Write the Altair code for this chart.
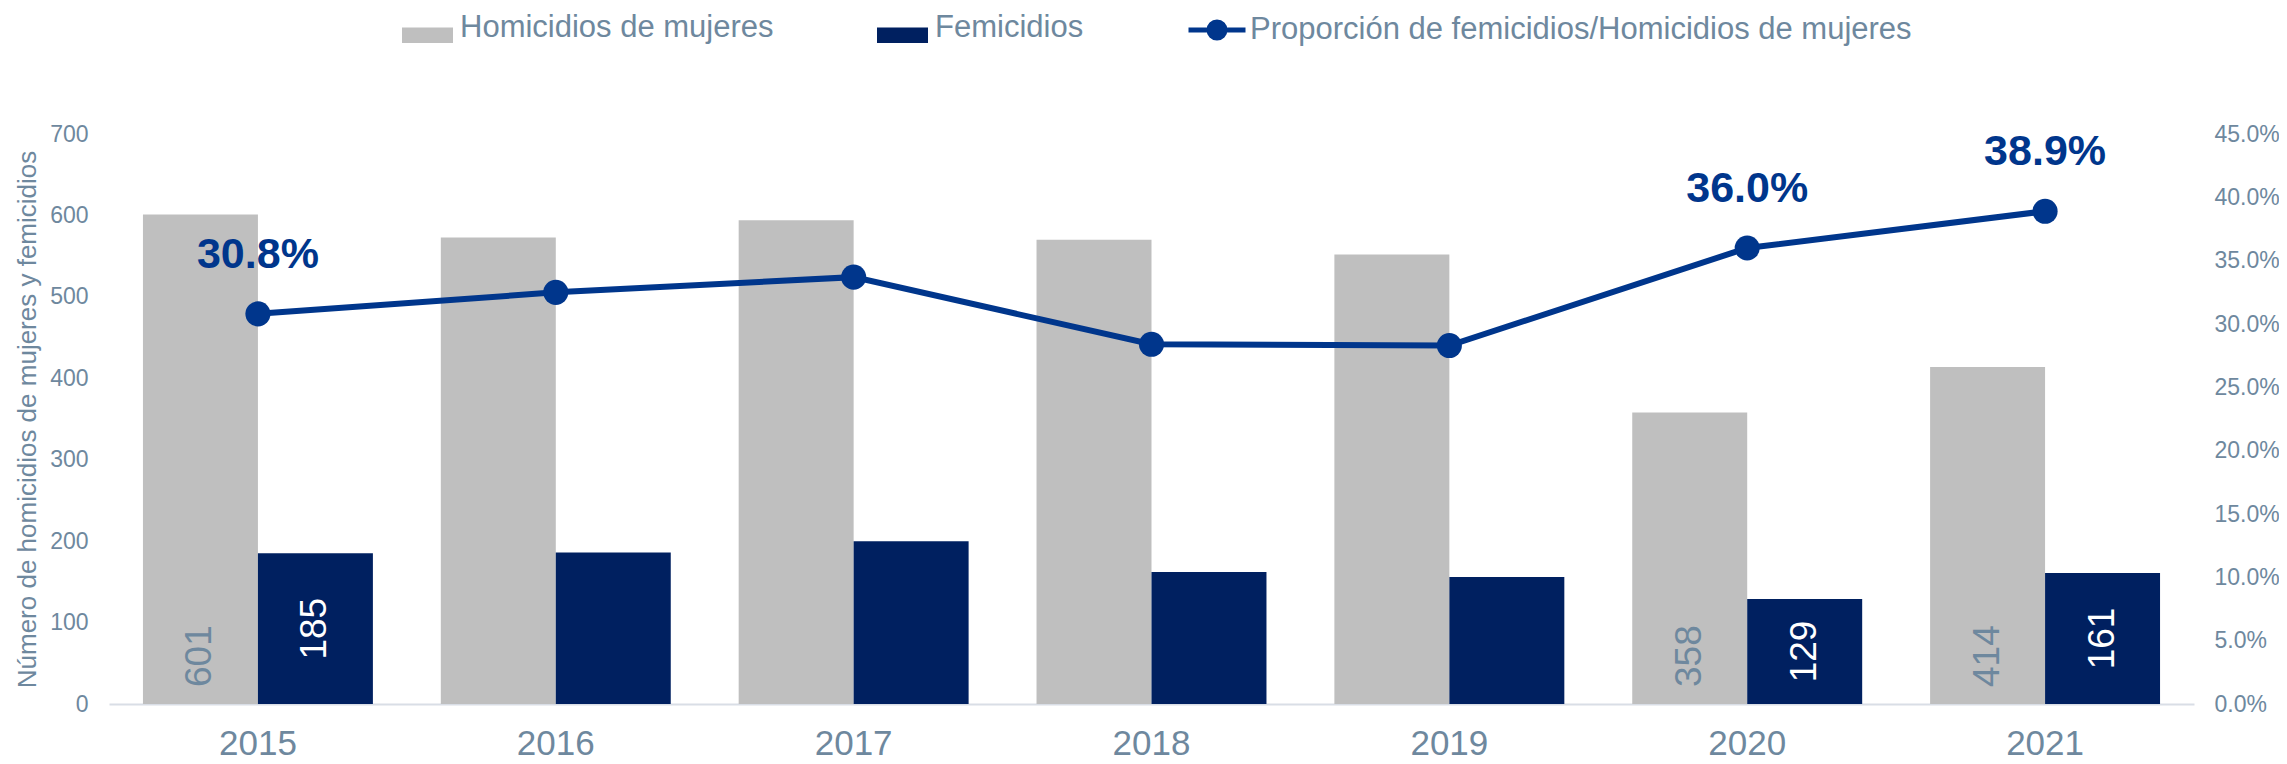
import altair as alt
import pandas as pd

# ---- data ----
years = ["2015", "2016", "2017", "2018", "2019", "2020", "2021"]
homicidios = [601, 573, 594, 570, 552, 358, 414]
femicidios = [185, 186, 200, 162, 156, 129, 161]
proporcion = [0.308, 0.325, 0.337, 0.284, 0.283, 0.360, 0.389]
show_label = [True, False, False, False, False, True, True]

S_H = "Homicidios de mujeres"
S_F = "Femicidios"
S_P = "Proporción de femicidios/Homicidios de mujeres"
Y_TITLE = "Número de homicidios de mujeres y femicidios"

GREY = "#BFBFBF"
NAVY = "#002060"
LINE = "#00368C"
TXT = "#6E889E"
FONT = "Liberation Sans"

rows = []
for i, yr in enumerate(years):
    rows.append({"year": yr, "series": S_H, "value": homicidios[i], "show": show_label[i]})
    rows.append({"year": yr, "series": S_F, "value": femicidios[i], "show": show_label[i]})
bars_df = pd.DataFrame(rows)

line_df = pd.DataFrame({"year": years, "prop": proporcion, "show": show_label,
                        "series": [S_P] * len(years)})

x_enc = alt.X("year:N", sort=years,
              scale=alt.Scale(paddingInner=0.228, paddingOuter=0.114),
              axis=alt.Axis(title=None, labelAngle=0, labelFontSize=35, labelColor=TXT,
                            labelFont=FONT, ticks=False, labelPadding=22,
                            domainColor="#D9DEE6", domainWidth=2, grid=False))
xoff = alt.XOffset("series:N", sort=[S_H, S_F],
                   scale=alt.Scale(domain=[S_H, S_F], paddingInner=0, paddingOuter=0))

y_left_scale = alt.Scale(domain=[0, 700])
y_left_axis = alt.Axis(values=list(range(0, 701, 100)), title=Y_TITLE,
                       labelFontSize=23, labelColor=TXT, labelFont=FONT,
                       labelPadding=21, ticks=False, domain=False, grid=False,
                       titleFontSize=26, titleColor=TXT, titleFont=FONT,
                       titleFontWeight="normal", titleX=-82, titleY=285,
                       titleAngle=270, titleAlign="center", titleBaseline="middle")

bars = alt.Chart(bars_df).mark_bar().encode(
    x=x_enc, xOffset=xoff,
    y=alt.Y("value:Q", scale=y_left_scale, axis=y_left_axis, title=Y_TITLE),
    fill=alt.Fill("series:N", sort=[S_H, S_F],
                  scale=alt.Scale(domain=[S_H, S_F], range=[GREY, NAVY]),
                  legend=alt.Legend(title=None, orient="none", legendX=293, legendY=-132,
                                    direction="horizontal",
                                    symbolType="M-1,0L1,0L1,0.6L-1,0.6Z",
                                    symbolSize=2601, symbolStrokeWidth=0,
                                    labelFontSize=31, labelColor=TXT, labelFont=FONT,
                                    labelOffset=7, columnPadding=103, labelLimit=1000,
                                    padding=0)),
)

grey_labels = alt.Chart(bars_df).transform_filter(
    (alt.datum.series == S_H) & alt.datum.show
).mark_text(angle=270, align="left", baseline="middle", dx=17, fontSize=37,
            color=TXT, font=FONT).encode(
    x=x_enc, xOffset=xoff,
    y=alt.datum(0),
    text=alt.Text("value:Q"),
)

navy_labels = alt.Chart(bars_df).transform_filter(
    (alt.datum.series == S_F) & alt.datum.show
).transform_calculate(mid="datum.value / 2").mark_text(
    angle=270, align="center", baseline="middle", fontSize=37, color="white", font=FONT
).encode(
    x=x_enc, xOffset=xoff,
    y=alt.Y("mid:Q", scale=y_left_scale, axis=y_left_axis, title=Y_TITLE),
    text=alt.Text("value:Q"),
)

left = alt.layer(bars, grey_labels, navy_labels)

y_right_scale = alt.Scale(domain=[0, 0.45])
y_right = alt.Y("prop:Q", scale=y_right_scale,
                axis=alt.Axis(orient="right", format=".1%",
                              values=[i * 0.05 for i in range(10)], title=None,
                              labelFontSize=23, labelColor=TXT, labelFont=FONT,
                              labelPadding=20, ticks=False, domain=False, grid=False))

LEG_PATH = ("M-1,0L1,0"
            "M0.28,0A0.28,0.28,0,1,1,-0.28,0A0.28,0.28,0,1,1,0.28,0"
            "M0.14,0A0.14,0.14,0,1,1,-0.14,0A0.14,0.14,0,1,1,0.14,0"
            "M0.04,0A0.04,0.04,0,1,1,-0.04,0A0.04,0.04,0,1,1,0.04,0")

line = alt.Chart(line_df).mark_line(strokeWidth=6).encode(
    x=x_enc, y=y_right,
    stroke=alt.Stroke("series:N",
                      scale=alt.Scale(domain=[S_P], range=[LINE]),
                      legend=alt.Legend(title=None, orient="none", legendX=1077, legendY=-135,
                                        symbolType=LEG_PATH, symbolSize=3249,
                                        symbolStrokeWidth=5, symbolStrokeColor=LINE,
                                        symbolFillColor=LINE,
                                        labelFontSize=31, labelColor=TXT, labelFont=FONT,
                                        labelOffset=2, labelLimit=1000, padding=0)),
)

points = alt.Chart(line_df).mark_circle(size=630, opacity=1, color=LINE).encode(
    x=x_enc, y=y_right,
)

pct_labels = alt.Chart(line_df).transform_filter(alt.datum.show).mark_text(
    align="center", baseline="alphabetic", dy=-46, fontSize=43, fontWeight="bold",
    color=LINE, font=FONT
).encode(
    x=x_enc, y=y_right,
    text=alt.Text("prop:Q", format=".1%"),
)

right = alt.layer(line, points, pct_labels)

chart = alt.layer(left, right).resolve_scale(y="independent").properties(
    width=2085, height=570,
    autosize=alt.AutoSizeParams(type="none"),
    padding={"left": 101, "top": 126, "right": 85, "bottom": 52},
).configure(font=FONT).configure_view(stroke=None)

chart.save("out.html", embed_options={"renderer": "svg", "actions": False})
